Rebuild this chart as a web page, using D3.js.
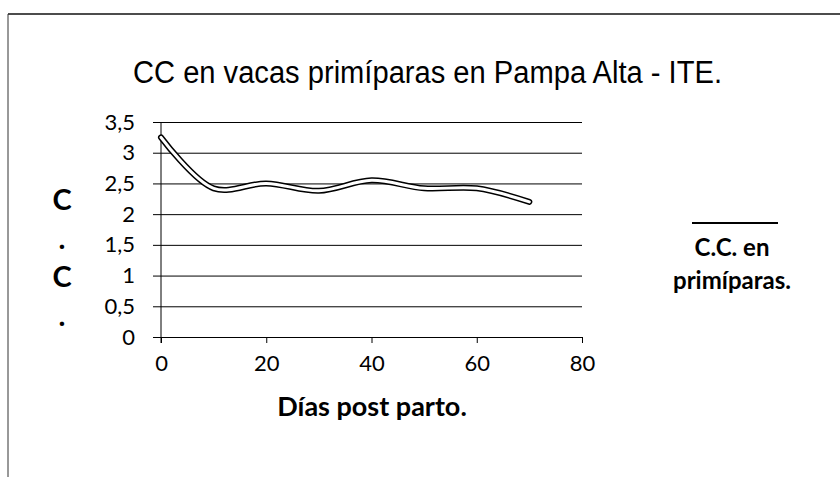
<!DOCTYPE html>
<html>
<head>
<meta charset="utf-8">
<script src="https://cdn.jsdelivr.net/npm/d3@7"></script>
<style>
  body { margin: 0; background: #fff; }
  text { fill: #000; }
</style>
</head>
<body>
<svg width="840" height="477"></svg>
<script>
// data
var days = [0, 10, 20, 30, 40, 50, 60, 70];
var cc = [3.25, 2.42, 2.5, 2.38, 2.55, 2.42, 2.42, 2.2];
var xTicks = [0, 20, 40, 60, 80];
var yTicks = [0, 0.5, 1, 1.5, 2, 2.5, 3, 3.5];
var yTitleChars = ["C", ".", "C", "."];
var legendLines = ["C.C. en", "primíparas."];

var svg = d3.select("svg");
var fmt = function(d) { return String(d).replace(".", ","); };

// frame of the scanned page
svg.append("line").attr("x1", 8).attr("x2", 840).attr("y1", 14).attr("y2", 14)
    .attr("stroke", "#111").attr("stroke-width", 1.5);
svg.append("line").attr("x1", 8).attr("x2", 8).attr("y1", 14).attr("y2", 477)
    .attr("stroke", "#333").attr("stroke-width", 1);

var x = d3.scaleLinear().domain([0, 80]).range([161, 582]),
    y = d3.scaleLinear().domain([0, 3.5]).range([337, 122]);

// title, slightly condensed like the scan
svg.append("text")
    .attr("x", 133).attr("y", 83)
    .attr("textLength", 589)
    .attr("lengthAdjust", "spacingAndGlyphs")
    .style("font", "31px 'Liberation Sans', Arial, sans-serif")
    .text("CC en vacas primíparas en Pampa Alta - ITE.");

// horizontal gridlines
svg.append("g")
    .attr("transform", "translate(" + x(0) + ",0)")
    .call(d3.axisLeft(y).tickValues(yTicks).tickSize(-(x(80) - x(0))).tickFormat(""))
    .call(function(g) { g.select(".domain").remove(); })
    .selectAll("line").attr("stroke", "#000");

// y axis
svg.append("g")
    .attr("transform", "translate(" + x(0) + ",0)")
    .call(d3.axisLeft(y).tickValues(yTicks).tickSize(8).tickPadding(18).tickFormat(fmt))
    .call(function(g) {
      g.select(".domain").attr("d", "M0," + y(3.5) + "V" + (y(0) + 6));
      g.selectAll("text").style("font", "22px Lato, sans-serif").attr("fill", "#000");
    });

// x axis
svg.append("g")
    .attr("transform", "translate(0," + y(0) + ")")
    .call(d3.axisBottom(x).tickValues(xTicks).tickSize(6).tickPadding(12).tickFormat(d3.format("d")))
    .call(function(g) {
      g.select(".domain").remove();
      g.selectAll("text").style("font", "22px Lato, sans-serif").attr("fill", "#000");
    });

// axis titles
svg.append("text")
    .attr("x", 372).attr("y", 416)
    .attr("text-anchor", "middle")
    .style("font", "bold 27px Lato, sans-serif")
    .text("Días post parto.");

svg.selectAll(".ytitle")
    .data(yTitleChars)
    .enter().append("text")
      .attr("class", "ytitle")
      .attr("x", 62)
      .attr("y", function(d, i) { return 210 + i * 38.7; })
      .attr("text-anchor", "middle")
      .style("font", "bold 29px Lato, sans-serif")
      .text(function(d) { return d; });

// the series: a hollow double line
var line = d3.line()
    .curve(d3.curveCatmullRom.alpha(0.5))
    .x(function(d, i) { return x(days[i]); })
    .y(function(d) { return y(d); });

svg.append("path").attr("d", line(cc))
    .attr("fill", "none").attr("stroke", "#000").attr("stroke-width", 6)
    .attr("stroke-linecap", "round");
svg.append("path").attr("d", line(cc))
    .attr("fill", "none").attr("stroke", "#fff").attr("stroke-width", 3)
    .attr("stroke-linecap", "round");

// legend
svg.append("line").attr("x1", 692).attr("x2", 778).attr("y1", 223).attr("y2", 223)
    .attr("stroke", "#000").attr("stroke-width", 2);
svg.selectAll(".legend")
    .data(legendLines)
    .enter().append("text")
      .attr("class", "legend")
      .attr("x", 732)
      .attr("y", function(d, i) { return 256 + i * 33; })
      .attr("text-anchor", "middle")
      .style("font", "bold 24px Lato, sans-serif")
      .text(function(d) { return d; });
</script>
</body>
</html>
